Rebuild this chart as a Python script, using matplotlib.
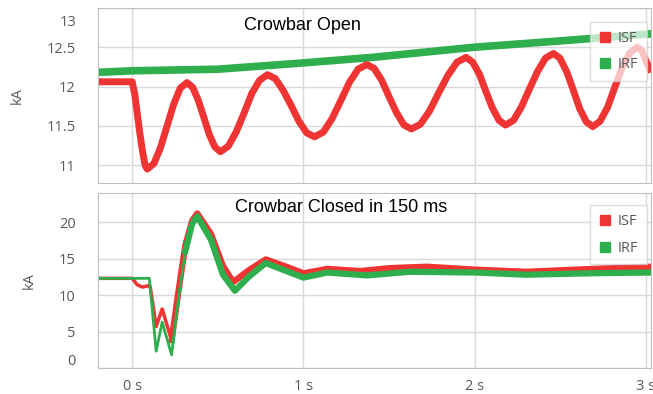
import matplotlib
matplotlib.use("Agg")
import matplotlib.pyplot as plt
from matplotlib.lines import Line2D

# crowbar open (time in s, current in kA)
t_open_isf = [-0.2, 0.0, 0.015, 0.03, 0.045, 0.06, 0.075, 0.088,
              0.127, 0.165, 0.204, 0.243, 0.281, 0.32,
              0.353, 0.385, 0.418, 0.45, 0.483, 0.515,
              0.561, 0.607, 0.653, 0.698, 0.744, 0.79,
              0.836, 0.882, 0.928, 0.973, 1.019, 1.065,
              1.116, 1.167, 1.218, 1.268, 1.319, 1.37,
              1.413, 1.457, 1.50, 1.543, 1.587, 1.63,
              1.683, 1.737, 1.79, 1.843, 1.897, 1.95,
              1.988, 2.027, 2.065, 2.103, 2.142, 2.18,
              2.227, 2.273, 2.32, 2.367, 2.413, 2.46,
              2.498, 2.537, 2.575, 2.613, 2.652, 2.69,
              2.733, 2.777, 2.82, 2.863, 2.907, 2.95,
              2.975, 3.0, 3.03]
isf_open = [12.06, 12.06, 11.9, 11.65, 11.4, 11.18, 11.0, 10.95,
            11.02, 11.22, 11.50, 11.78, 11.98, 12.05,
            11.99, 11.83, 11.61, 11.39, 11.23, 11.17,
            11.24, 11.42, 11.66, 11.91, 12.08, 12.15,
            12.10, 11.95, 11.76, 11.56, 11.41, 11.36,
            11.42, 11.59, 11.82, 12.05, 12.22, 12.28,
            12.23, 12.08, 11.87, 11.67, 11.51, 11.46,
            11.52, 11.69, 11.92, 12.14, 12.31, 12.37,
            12.31, 12.16, 11.94, 11.73, 11.57, 11.51,
            11.57, 11.74, 11.97, 12.19, 12.36, 12.42,
            12.36, 12.19, 11.96, 11.72, 11.55, 11.49,
            11.56, 11.74, 12.0, 12.25, 12.43, 12.5,
            12.46, 12.33, 12.18]
t_open_irf = [-0.2, 0.0, 0.5, 1.0, 1.4, 2.0, 2.5, 3.03]
irf_open = [12.18, 12.2, 12.22, 12.3, 12.37, 12.5, 12.58, 12.67]

# crowbar closed in 150 ms
t_closed_isf = [-0.2, 0.0, 0.03, 0.06, 0.095, 0.105, 0.14, 0.175, 0.23, 0.27,
                0.31, 0.35, 0.38, 0.46, 0.53, 0.59, 0.68, 0.78, 0.9, 1.0,
                1.14, 1.33, 1.5, 1.72, 2.0, 2.3, 2.69, 3.03]
isf_closed = [12.3, 12.3, 11.4, 11.1, 11.3, 11.2, 5.7, 8.1, 3.8, 10.5,
              16.8, 20.2, 21.2, 18.4, 14.0, 11.8, 13.4, 14.9, 13.9, 13.0,
              13.6, 13.3, 13.7, 13.9, 13.5, 13.2, 13.6, 13.9]
t_closed_irf = [-0.2, 0.1, 0.14, 0.175, 0.23, 0.27, 0.31, 0.35, 0.38, 0.46,
                0.53, 0.6, 0.68, 0.78, 0.9, 1.0, 1.14, 1.37, 1.62, 2.0,
                2.3, 2.69, 3.03]
irf_closed = [12.3, 12.3, 2.3, 6.3, 1.8, 9.5, 16.0, 19.8, 20.8, 17.6,
              12.8, 10.6, 12.5, 14.4, 13.3, 12.4, 13.1, 12.7, 13.2, 13.1,
              12.8, 13.0, 13.1]

red = '#ef3434'
green = '#2fae4e'
grey_txt = '#595959'
grid_col = '#d9d9d9'
spine_col = '#bfbfbf'

plt.rcParams['font.family'] = ['Open Sans', 'DejaVu Sans']

fig = plt.figure(figsize=(6.53, 3.94), dpi=100)
ax1 = fig.add_axes([0.150, 0.535, 0.847, 0.445])
ax2 = fig.add_axes([0.150, 0.066, 0.847, 0.444])


def style(ax):
    ax.set_xlim(-0.2, 3.03)
    ax.set_xticks([0, 1, 2, 3])
    ax.grid(True, color=grid_col, linewidth=1)
    ax.set_axisbelow(True)
    for s in ax.spines.values():
        s.set_color(spine_col)
    ax.tick_params(length=0, colors=grey_txt, labelsize=10.5, pad=16)
    ax.tick_params(axis='x', pad=8)
    ax.set_ylabel('kA', color=grey_txt, fontsize=10.5, labelpad=16)


def thick_part(t, v, start):
    # the traces get a wider noise band once the transient is under way
    idx = [i for i in range(len(t)) if t[i] >= start]
    return [t[i] for i in idx], [v[i] for i in idx]


style(ax1)
ax1.plot(t_open_irf, irf_open, color=green, lw=5.5, solid_joinstyle='round')
ax1.plot(t_open_isf, isf_open, color=red, lw=5, solid_joinstyle='round',
         solid_capstyle='butt')
ax1.set_ylim(10.77, 13.0)
ax1.set_yticks([11, 11.5, 12, 12.5, 13])
ax1.set_yticklabels(['11', '11.5', '12', '12.5', ''])
ax1.set_xticklabels([])
ax1.text(-22 / 553, 12.81, '13', transform=ax1.get_yaxis_transform(),
         ha='right', va='center', fontsize=10.5, color=grey_txt)
ax1.text(0.369, 0.90, 'Crowbar Open', transform=ax1.transAxes, ha='center',
         va='center', fontsize=13, family='Liberation Sans', color='black')

style(ax2)
ax2.plot(t_closed_isf, isf_closed, color=red, lw=2.5, solid_joinstyle='round')
ax2.plot(*thick_part(t_closed_isf, isf_closed, 0.23), color=red, lw=4.5,
         solid_joinstyle='round')
ax2.plot(t_closed_irf, irf_closed, color=green, lw=2.0, solid_joinstyle='round')
ax2.plot(*thick_part(t_closed_irf, irf_closed, 0.31), color=green, lw=4.5,
         solid_joinstyle='round')
ax2.set_ylim(0, 24)
ax2.set_yticks([0, 5, 10, 15, 20])
ax2.set_yticklabels(['', '5', '10', '15', '20'])
ax2.set_xticklabels(['0 s', '1 s', '2 s', '3 s'])
ax2.text(-22 / 553, 0.95, '0', transform=ax2.get_yaxis_transform(),
         ha='right', va='center', fontsize=10.5, color=grey_txt)
ax2.text(0.44, 0.92, 'Crowbar Closed in 150 ms', transform=ax2.transAxes,
         ha='center', va='center', fontsize=13, family='Liberation Sans',
         color='black')

handles = [Line2D([], [], ls='none', marker='s', ms=7, color=red),
           Line2D([], [], ls='none', marker='s', ms=7, color=green)]
for ax, top in ((ax1, 0.92), (ax2, 0.93)):
    leg = ax.legend(handles, ['ISF', 'IRF'], loc='upper right',
                    bbox_to_anchor=(0.993, top), fontsize=10.5, frameon=True,
                    fancybox=False, edgecolor='#d0d0d0', framealpha=0.7,
                    handlelength=0.8, handletextpad=0.5, borderpad=0.6,
                    labelspacing=0.8, borderaxespad=0)
    for txt in leg.get_texts():
        txt.set_color(grey_txt)

fig.savefig('out.png', dpi=100)
